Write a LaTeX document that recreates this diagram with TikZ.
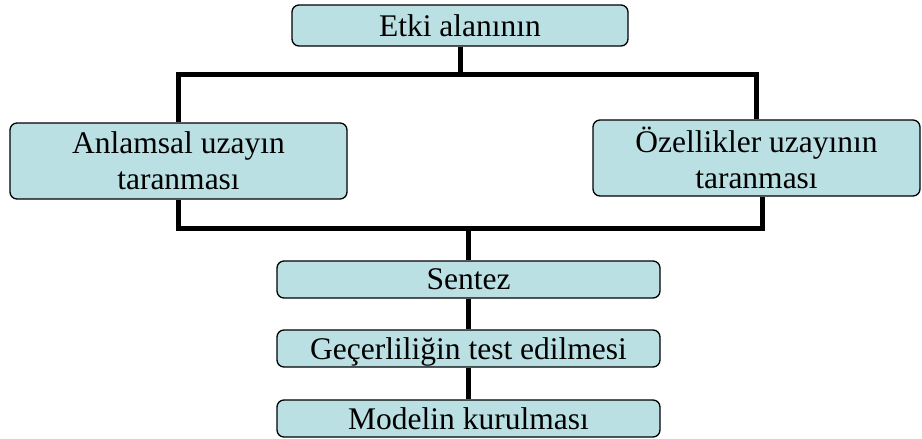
\documentclass[tikz,border=0pt]{standalone}
\usepackage{fontspec}
\setmainfont{Liberation Serif}
\definecolor{boxfill}{RGB}{187,224,227}
\tikzset{
  box/.style={draw=black, line width=1.3pt, fill=boxfill, rounded corners=7pt,
    inner sep=0pt, align=center, text depth=0pt, font=\fontsize{31.5}{36}\selectfont},
  conn/.style={line width=5pt, black}
}
\begin{document}
\begin{tikzpicture}[x=1pt,y=-1pt]
\useasboundingbox (0,0) rectangle (922,439);
\node[box, minimum width=336pt, minimum height=41pt] (top) at (460,25.5) {Etki alanının};
\node[box, minimum width=337pt, minimum height=76pt] (left) at (178.5,161) {Anlamsal uzayın\\taranması};
\node[box, minimum width=327pt, minimum height=76pt] (right) at (756.5,158) {Özellikler uzayının\\taranması};
\node[box, minimum width=383pt, minimum height=37pt] (s1) at (468.5,279.5) {Sentez};
\node[box, minimum width=383pt, minimum height=37pt] (s2) at (468.5,348.5) {Geçerliliğin test edilmesi};
\node[box, minimum width=383pt, minimum height=37pt] (s3) at (468.5,418.5) {Modelin kurulması};
\coordinate (jt) at (460,74);
\coordinate (jb) at (468.5,228);
\draw[conn] (top.south) -- (jt);
\draw[conn] (left.north) |- (jt) -| (right.north);
\draw[conn] (left.south) |- (jb) -| ([xshift=5.5pt]right.south);
\draw[conn] (jb) -- (s1.north);
\draw[conn] (s1.south) -- (s2.north);
\draw[conn] (s2.south) -- (s3.north);
\end{tikzpicture}
\end{document}
